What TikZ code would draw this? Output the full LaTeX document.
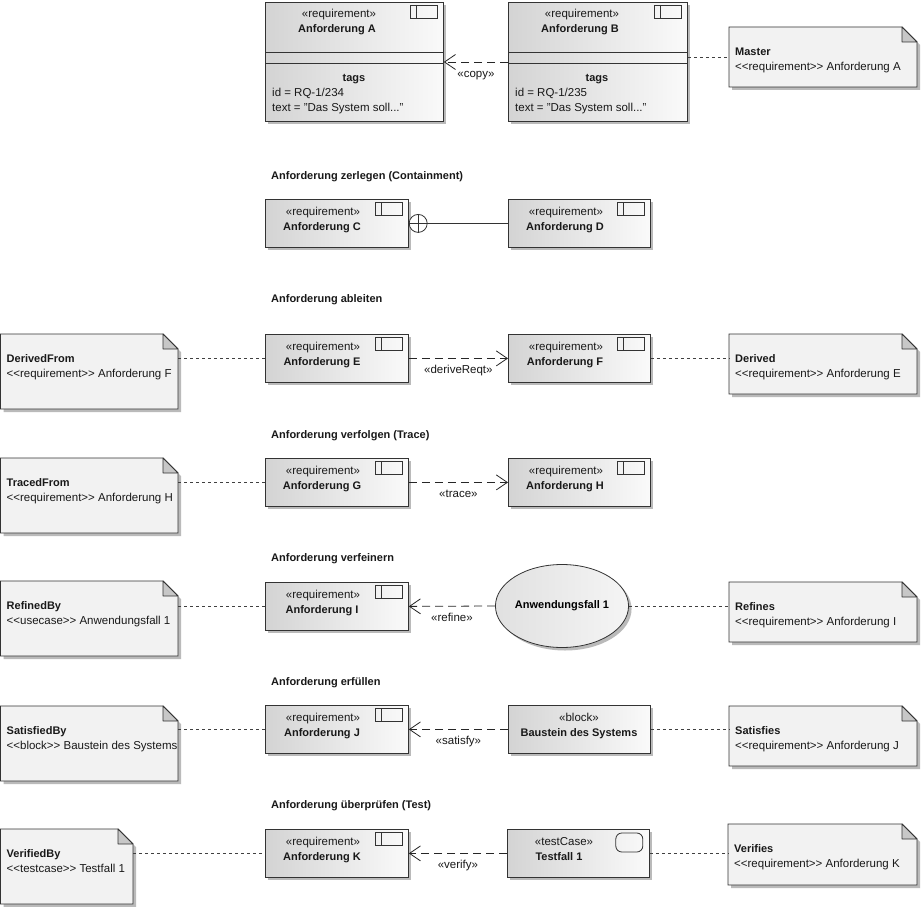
\documentclass[tikz,border=0pt]{standalone}
\usepackage{fontspec}
\setmainfont{Liberation Sans}
\usetikzlibrary{arrows.meta,shadows,shapes.geometric}
\newcommand\llt{<\kern0pt<}
\newcommand\ggt{>\kern0pt>}
\tikzset{
  lc/.style={draw=black!80, line width=0.8pt},
  box/.style={lc, rectangle, inner sep=0pt, anchor=north west, left color=black!17, right color=black!2,
    general shadow={fill=black!27, shadow xshift=3pt, shadow yshift=-3pt}},
  uc/.style={lc, ellipse, inner sep=0pt, left color=black!12, right color=black!4,
    general shadow={fill=black!27, shadow xshift=3pt, shadow yshift=-3pt},
    font=\fontsize{11}{13}\selectfont\bfseries},
  st/.style={font=\fontsize{11.5}{13}\selectfont, inner sep=0pt, anchor=base, text=black!90},
  bt/.style={st, font=\fontsize{11}{13}\selectfont\bfseries},
  lbl/.style={st, anchor=base, yshift=-15.5pt},
  icn/.style={draw=black!80, line width=0.8pt},
  notefill/.style={draw=black!80, line width=0.8pt, fill=black!5},
  foldfill/.style={draw=black!80, line width=0.8pt, fill=black!22, line join=round},
  dep/.style={draw=black!85, line width=0.8pt, dash pattern=on 8pt off 5pt, -{Straight Barb[length=11pt,width=15pt]}},
  dotl/.style={draw=black!75, line width=0.7pt, dash pattern=on 3pt off 3pt},
}
\newcommand\reqicon[1]{%
  \draw[icn] ([shift={(-33,3)}]#1.north east) rectangle ([shift={(-6,16)}]#1.north east);
  \draw[icn] ([shift={(-27,3)}]#1.north east) -- ([shift={(-27,16)}]#1.north east);}
\newcommand\reqtext[3]{% node name, stereotype, title
  \node[st] (#1s) at ([shift={(58,16)}]#1.north west) {#2};
  \node[bt] (#1n) at ([shift={(57,31)}]#1.north west) {#3};}
\newcommand\umlnote[7]{%
  \fill[black!27] (#2+3,#3+3) -- (#4-12,#3+3) -- (#4+3,#3+18) -- (#4+3,#5+3) -- (#2+3,#5+3) -- cycle;
  \filldraw[notefill] (#2,#3) -- (#4-15,#3) -- (#4,#3+15) -- (#4,#5) -- (#2,#5) -- cycle;
  \filldraw[foldfill] (#4-15,#3) -- (#4-15,#3+15) -- (#4,#3+15) -- cycle;
  \node[inner sep=0pt, minimum width={#4-#2}, minimum height={#5-#3}, anchor=north west] (#1) at (#2,#3) {};
  \node[bt, anchor=base west] (#1a) at (#2+6,#3+28.5) {#6};
  \node[st, anchor=base west] (#1b) at (#2+6,#3+43.5) {#7};}
\begin{document}
\begin{tikzpicture}[x=1pt,y=-1pt]
\useasboundingbox (0,0) rectangle (922,907);
\fill[white] (0,0) rectangle (922,907);

% ---------- Row 1: copy ----------
\node[box, minimum width=178pt, minimum height=119pt] (A) at (265,2) {};
\node[box, minimum width=179pt, minimum height=119pt] (B) at (508,2) {};
\foreach \b in {A,B}{
  \draw[lc] ([yshift=-50pt]\b.north west) -- ([yshift=-50pt]\b.north east);
  \draw[lc] ([yshift=-61pt]\b.north west) -- ([yshift=-61pt]\b.north east);
  \reqicon{\b}
}
\node[st] (As) at ([shift={(74,16)}]A.north west) {«requirement»};
\node[bt] (An) at ([shift={(72,31)}]A.north west) {Anforderung A};
\node[bt] (At) at ([shift={(89,80)}]A.north west) {tags};
\node[st, anchor=base west] (Ai) at ([shift={(7,95)}]A.north west) {id = RQ-1/234};
\node[st, anchor=base west] (Ax) at ([shift={(7,110)}]A.north west) {text = "Das System soll..."};
\node[st] (Bs) at ([shift={(74,16)}]B.north west) {«requirement»};
\node[bt] (Bn) at ([shift={(72,31)}]B.north west) {Anforderung B};
\node[bt] (Bt) at ([shift={(89,80)}]B.north west) {tags};
\node[st, anchor=base west] (Bi) at ([shift={(7,95)}]B.north west) {id = RQ-1/235};
\node[st, anchor=base west] (Bx) at ([shift={(7,110)}]B.north west) {text = "Das System soll..."};
\umlnote{Mas}{729}{27}{917}{87}{Master}{\llt requirement\ggt{} Anforderung A}
\draw[dep] ([yshift=-60pt]B.north west) -- ([yshift=-60pt]A.north east)
  node[lbl, midway] (copyl) {«copy»};
\draw[dotl] (Mas.west -| B.east) -- (Mas.west);

% ---------- Row 2: containment ----------
\node[bt, anchor=base west] (t2) at (271,179) {Anforderung zerlegen (Containment)};
\node[box, minimum width=143pt, minimum height=48pt] (C) at (265,199) {};
\node[box, minimum width=142pt, minimum height=48pt] (D) at (508,199) {};
\reqicon{C}\reqicon{D}
\reqtext{C}{«requirement»}{Anforderung C}
\reqtext{D}{«requirement»}{Anforderung D}
\node[circle, lc, fill=white, minimum size=18pt, inner sep=0pt, anchor=west] (Cx) at (C.east) {};
\draw[lc] (Cx.north) -- (Cx.south) (Cx.west) -- (Cx.east);
\draw[lc] (Cx.east) -- (D.west);

% ---------- Row 3: derive ----------
\node[bt, anchor=base west] (t3) at (271,302) {Anforderung ableiten};
\umlnote{DF}{0.5}{334}{178}{409}{DerivedFrom}{\llt requirement\ggt{} Anforderung F}
\umlnote{DV}{729}{334}{917}{394}{Derived}{\llt requirement\ggt{} Anforderung E}
\node[box, minimum width=143pt, minimum height=48pt] (E) at (265,334) {};
\node[box, minimum width=142pt, minimum height=48pt] (F) at (508,334) {};
\reqicon{E}\reqicon{F}
\reqtext{E}{«requirement»}{Anforderung E}
\reqtext{F}{«requirement»}{Anforderung F}
\draw[dep] (E.east) -- (F.west) node[lbl, midway] (derl) {«deriveReqt»};
\draw[dotl] (E.west -| DF.east) -- (E.west);
\draw[dotl] (F.east) -- (F.east -| DV.west);

% ---------- Row 4: trace ----------
\node[bt, anchor=base west] (t4) at (271,438) {Anforderung verfolgen (Trace)};
\umlnote{TF}{0.5}{458}{178}{533}{TracedFrom}{\llt requirement\ggt{} Anforderung H}
\node[box, minimum width=143pt, minimum height=48pt] (G) at (265,458) {};
\node[box, minimum width=142pt, minimum height=48pt] (H) at (508,458) {};
\reqicon{G}\reqicon{H}
\reqtext{G}{«requirement»}{Anforderung G}
\reqtext{H}{«requirement»}{Anforderung H}
\draw[dep] (G.east) -- (H.west) node[lbl, midway] (trl) {«trace»};
\draw[dotl] (G.west -| TF.east) -- (G.west);

% ---------- Row 5: refine ----------
\node[bt, anchor=base west] (t5) at (271,561) {Anforderung verfeinern};
\umlnote{RB}{0.5}{581}{178}{656}{RefinedBy}{\llt usecase\ggt{} Anwendungsfall 1}
\umlnote{RF}{729}{582}{917}{642}{Refines}{\llt requirement\ggt{} Anforderung I}
\node[box, minimum width=143pt, minimum height=48pt] (I) at (265,582) {};
\reqicon{I}
\reqtext{I}{«requirement»}{Anforderung I}
\node[uc, minimum width=110pt, minimum height=83pt] (U) at (562,606) {Anwendungsfall 1};
\draw[dep] (U.west) -- (I.east) node[lbl, midway] (rfl) {«refine»};
\draw[dotl] (I.west -| RB.east) -- (I.west);
\draw[dotl] (U.east) -- (U.east -| RF.west);

% ---------- Row 6: satisfy ----------
\node[bt, anchor=base west] (t6) at (271,685) {Anforderung erfüllen};
\umlnote{SB}{0.5}{706}{178}{781}{SatisfiedBy}{\llt block\ggt{} Baustein des Systems}
\umlnote{SF}{729}{706}{917}{766}{Satisfies}{\llt requirement\ggt{} Anforderung J}
\node[box, minimum width=143pt, minimum height=48pt] (J) at (265,705) {};
\reqicon{J}
\reqtext{J}{«requirement»}{Anforderung J}
\node[box, minimum width=142pt, minimum height=48pt] (Bl) at (508,705) {};
\node[st] (Bls) at ([shift={(71,16)}]Bl.north west) {«block»};
\node[bt] (Bln) at ([shift={(71,31)}]Bl.north west) {Baustein des Systems};
\draw[dep] (Bl.west) -- (J.east) node[lbl, midway] (sal) {«satisfy»};
\draw[dotl] (J.west -| SB.east) -- (J.west);
\draw[dotl] (Bl.east) -- (Bl.east -| SF.west);

% ---------- Row 7: verify ----------
\node[bt, anchor=base west] (t7) at (271,808) {Anforderung überprüfen (Test)};
\umlnote{VB}{0.5}{829}{133}{904}{VerifiedBy}{\llt testcase\ggt{} Testfall 1}
\umlnote{VF}{728}{824}{917}{885}{Verifies}{\llt requirement\ggt{} Anforderung K}
\node[box, minimum width=143pt, minimum height=48pt] (K) at (265,829) {};
\reqicon{K}
\reqtext{K}{«requirement»}{Anforderung K}
\node[box, minimum width=142pt, minimum height=48pt] (Ts) at (507,829) {};
\draw[icn, rounded corners=6pt] ([shift={(-34,4)}]Ts.north east) rectangle ([shift={(-7,23)}]Ts.north east);
\node[st] (Tss) at ([shift={(57,16)}]Ts.north west) {«testCase»};
\node[bt] (Tsn) at ([shift={(52,31)}]Ts.north west) {Testfall 1};
\draw[dep] (Ts.west) -- (K.east) node[lbl, midway] (vel) {«verify»};
\draw[dotl] (K.west -| VB.east) -- (K.west);
\draw[dotl] (Ts.east) -- (Ts.east -| VF.west);
\end{tikzpicture}
\end{document}
